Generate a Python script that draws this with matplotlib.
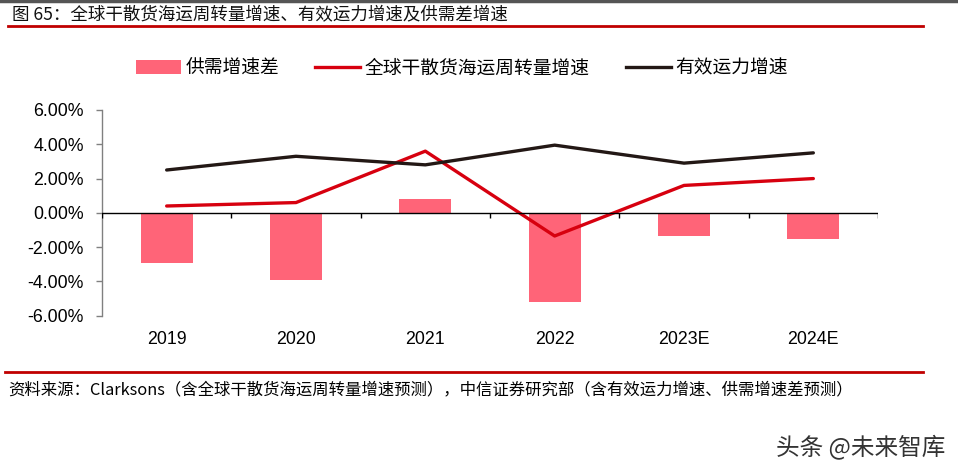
import numpy as np
import matplotlib
matplotlib.use("Agg")
import matplotlib.pyplot as plt
from matplotlib.patches import Patch
from matplotlib.lines import Line2D

# data (percent)
YEARS = ["2019", "2020", "2021", "2022", "2023E", "2024E"]
GAP = [-2.9, -3.9, 0.8, -5.2, -1.33, -1.52]          # 供需增速差
TONMILE = [0.4, 0.6, 3.6, -1.35, 1.6, 2.0]            # 全球干散货海运周转量增速
FLEET = [2.5, 3.3, 2.8, 3.95, 2.9, 3.5]               # 有效运力增速
YTICKS = [-6, -4, -2, 0, 2, 4, 6]

BAR = "#ff6478"
RED = "#d7000f"
INK = "#231815"
AXIS = "#808080"
CJK = ["Noto Sans CJK SC", "DejaVu Sans"]
LATIN = ["Liberation Sans", "Noto Sans CJK SC"]

plt.rcParams["font.family"] = LATIN

W, H = 958, 475
fig = plt.figure(figsize=(W / 100, H / 100), dpi=100)
fig.patch.set_facecolor("white")

ax = fig.add_axes([102 / W, 1 - 315.7 / H, 776 / W, 205.7 / H])
x = np.arange(len(YEARS))

ax.bar(x, GAP, width=0.4, color=BAR, zorder=2)
ax.plot(x, TONMILE, color=RED, lw=2.4, zorder=3, solid_capstyle="round")
ax.plot(x, FLEET, color=INK, lw=2.4, zorder=3, solid_capstyle="round")

ax.set_xlim(-0.5, len(YEARS) - 0.5)
ax.set_ylim(-6, 6)
ax.set_yticks(YTICKS)
ax.set_yticklabels([f"{v:.2f}%" for v in YTICKS])
ax.set_xticks(x)
ax.set_xticklabels(YEARS)
ax.tick_params(axis="x", length=0, pad=11, labelsize=12.8)
ax.tick_params(axis="y", length=4, width=1, color=AXIS, pad=9, labelsize=12.8)

# zero line with category-boundary ticks
ax.axhline(0, color="black", lw=1, zorder=4)
ax.vlines(np.arange(-0.5, len(YEARS)), -0.3, 0, color="black", lw=1, zorder=4)

for s in ("top", "right", "bottom"):
    ax.spines[s].set_visible(False)
ax.spines["left"].set_color(AXIS)
ax.spines["left"].set_linewidth(1)

handles = [
    Patch(facecolor=BAR, edgecolor="none", label="供需增速差"),
    Line2D([0], [0], color=RED, lw=2.4, label="全球干散货海运周转量增速"),
    Line2D([0], [0], color=INK, lw=2.4, label="有效运力增速"),
]
fig.legend(handles=handles, loc="center", ncol=3, frameon=False,
           bbox_to_anchor=((137 + 787) / 2 / W, 1 - 68 / H),
           prop={"family": CJK, "size": 13.5}, handlelength=2.4,
           handletextpad=0.25, columnspacing=1.9, borderpad=0)

# header / footer
fig.add_artist(Line2D([0, 1], [1 - 1 / H, 1 - 1 / H], color="#555555", lw=2.5))
fig.text(12 / W, 1 - 14 / H, "图 65：全球干散货海运周转量增速、有效运力增速及供需差增速",
         family=CJK, fontsize=12.6, va="center", ha="left", color="#111111")
fig.add_artist(Line2D([8 / W, 923 / W], [1 - 26 / H, 1 - 26 / H], color="#c00000", lw=2))
fig.add_artist(Line2D([5 / W, 923 / W], [1 - 372 / H, 1 - 372 / H], color="#c00000", lw=2))
fig.text(8 / W, 1 - 390 / H,
         "资料来源：Clarksons（含全球干散货海运周转量增速预测），中信证券研究部（含有效运力增速、供需增速差预测）",
         family=CJK, fontsize=11.8, va="center", ha="left")
fig.text(945 / W, 1 - 447 / H, "头条 @未来智库", family=CJK, fontsize=17,
         color="#333333", va="center", ha="right")

fig.savefig("out.png", dpi=100, facecolor="white")
